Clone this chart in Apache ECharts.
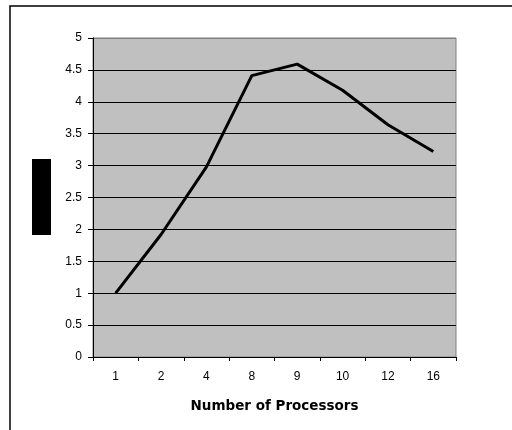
<!DOCTYPE html>
<html>
<head>
<meta charset="utf-8">
<script src="https://cdn.jsdelivr.net/npm/echarts@6/dist/echarts.min.js"></script>
<style>
html,body{margin:0;padding:0;background:#fff;}
#c{width:512px;height:430px;}
</style>
</head>
<body>
<div id="c"></div>
<script>
const categories = ['1','2','4','8','9','10','12','16'];
const speedup = [1.0, 1.92, 2.98, 4.41, 4.59, 4.18, 3.64, 3.22];
const xAxisTitle = 'Number of Processors';

const gridColors = ['#000','#000','#000','#000','#000','#000','#000','#000','#000','#000','#808080'];

const chart = echarts.init(document.getElementById('c'), null, {renderer:'canvas'});
chart.setOption({
  animation: false,
  backgroundColor: '#ffffff',
  textStyle: {fontFamily: 'Liberation Sans, Arial, sans-serif'},
  graphic: [
    {type:'rect', shape:{x:10, y:6, width:600, height:600}, style:{fill:'none', stroke:'#000', lineWidth:1.5}, silent:true, z:-1},
    {type:'rect', shape:{x:32, y:159, width:19, height:76}, style:{fill:'#000'}, silent:true}
  ],
  grid: {left:93, top:38, right:56, bottom:73, show:true, backgroundColor:'#c0c0c0', borderColor:'#808080', borderWidth:1},
  xAxis: {
    type:'category', data: categories, boundaryGap:true,
    name: xAxisTitle, nameLocation:'middle', nameGap:42,
    nameTextStyle:{fontFamily:'DejaVu Sans', fontWeight:'bold', fontSize:13.5, color:'#000'},
    axisLine:{show:true, lineStyle:{color:'#000', width:1}},
    axisTick:{show:true, alignWithLabel:false, length:4, lineStyle:{color:'#000'}},
    axisLabel:{color:'#000', fontSize:12, margin:14, fontFamily:'Liberation Sans'},
    splitLine:{show:false}
  },
  yAxis: {
    type:'value', min:0, max:5, interval:0.5,
    axisLine:{show:true, lineStyle:{color:'#000', width:1}},
    axisTick:{show:true, length:5, lineStyle:{color:'#000'}},
    axisLabel:{color:'#000', fontSize:12, margin:11, fontFamily:'Liberation Sans'},
    splitLine:{show:true, lineStyle:{color:gridColors, width:1}}
  },
  series: [{
    type:'line', data: speedup, showSymbol:false, symbol:'none',
    lineStyle:{color:'#000', width:3}, itemStyle:{color:'#000'}
  }]
});
</script>
</body>
</html>
